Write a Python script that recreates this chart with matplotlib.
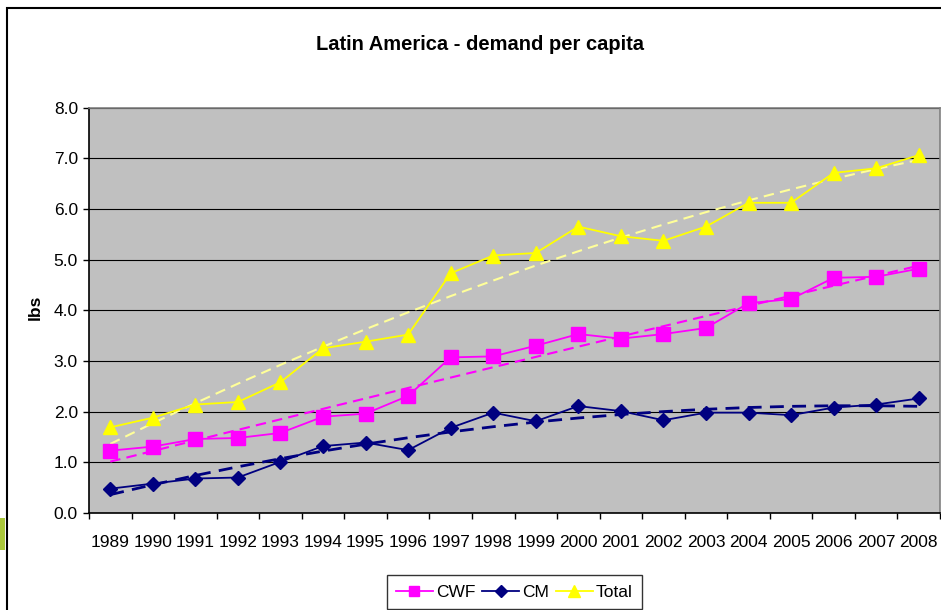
import numpy as np
import matplotlib
matplotlib.use("Agg")
import matplotlib.pyplot as plt
import matplotlib.patches as patches

plt.rcParams['font.family'] = ['Liberation Sans', 'DejaVu Sans']

# data
years = [str(y) for y in range(1989, 2009)]
cwf = [1.23, 1.31, 1.46, 1.48, 1.58, 1.90, 1.96, 2.31, 3.07, 3.09,
       3.30, 3.53, 3.44, 3.53, 3.65, 4.14, 4.22, 4.64, 4.66, 4.82]
cm = [0.48, 0.58, 0.68, 0.70, 1.01, 1.32, 1.39, 1.24, 1.68, 1.98,
      1.81, 2.11, 2.01, 1.83, 1.98, 1.98, 1.93, 2.08, 2.14, 2.26]
total = [1.69, 1.88, 2.14, 2.19, 2.58, 3.25, 3.38, 3.52, 4.73, 5.08,
         5.13, 5.65, 5.46, 5.37, 5.65, 6.12, 6.12, 6.71, 6.80, 7.06]
yticks = [0, 1, 2, 3, 4, 5, 6, 7, 8]

W, H = 941, 610
fig = plt.figure(figsize=(W / 100, H / 100), dpi=100)
ax = fig.add_axes([89 / W, 1 - 513 / H, 851 / W, (513 - 107.5) / H])
ax.set_facecolor("#C0C0C0")

x = np.arange(len(years))

# polynomial trend lines (excel style)
def trend(vals):
    c = np.polyfit(x, vals, 2)
    return np.polyval(c, x)

ax.plot(x, trend(cwf), color="#FF00FF", lw=1.5, ls=(0, (5, 3)), zorder=3)
ax.plot(x, trend(cm), color="#000080", lw=2.0, ls=(0, (5, 3)), zorder=3)
ax.plot(x, trend(total), color="#FFFF99", lw=1.5, ls=(0, (5, 3)), zorder=3)

l1, = ax.plot(x, cwf, color="#FF00FF", lw=1.3, marker="s", ms=9.5,
              mec="#FF00FF", label="CWF", zorder=4)
l2, = ax.plot(x, cm, color="#000080", lw=1.3, marker="D", ms=7.5,
              mec="#000080", label="CM", zorder=4)
l3, = ax.plot(x, total, color="#FFFF00", lw=1.3, marker="^", ms=10,
              mec="#FFFF00", label="Total", zorder=4)

ax.set_xlim(-0.5, len(years) - 0.5)
ax.set_ylim(0, 8)
ax.set_yticks(yticks)
ax.set_yticklabels(["%.1f" % v for v in yticks])
ax.yaxis.grid(True, color="black", lw=0.8)
ax.set_axisbelow(True)

ax.set_xticks(x)
ax.set_xticklabels(years)
ax.set_xticks(np.arange(-0.5, len(years)), minor=True)
ax.tick_params(axis="x", which="major", length=0, pad=16, labelsize=12.5)
ax.tick_params(axis="x", which="minor", length=4.5, width=1, direction="out")
ax.tick_params(axis="y", length=4, width=1, pad=4, labelsize=12.5)

ax.spines["left"].set_color("black")
ax.spines["bottom"].set_color("black")
ax.spines["top"].set_color("#808080")
ax.spines["right"].set_color("#808080")
for s in ax.spines.values():
    s.set_linewidth(1.2)

fig.text(480 / W, 1 - 44 / H, "Latin America - demand per capita",
         ha="center", va="center", fontsize=14.5, fontweight="bold")
fig.text(35.5 / W, 1 - 307 / H, "lbs", rotation=90, ha="center",
         va="center", fontsize=12.5, fontweight="bold")

leg = fig.legend(handles=[l1, l2, l3], loc="upper center",
                 bbox_to_anchor=(514.5 / W, 1 - 575 / H), ncol=3,
                 fontsize=12.5, frameon=True, fancybox=False,
                 handlelength=2.1, handletextpad=0.2, columnspacing=0.4,
                 borderpad=0.55, borderaxespad=0, markerscale=0.8)
leg.get_frame().set_edgecolor("black")
leg.get_frame().set_linewidth(1.0)

# chart border and slide remnant on the left
fig.patches.append(patches.Rectangle((7 / W, -0.2), 1.2, 1 - 8 / H + 0.2,
                                     transform=fig.transFigure, fill=False,
                                     edgecolor="black", lw=1.5))
fig.patches.append(patches.Rectangle((0, 1 - 550 / H), 5 / W, 32 / H,
                                     transform=fig.transFigure,
                                     facecolor="#A9C63A", edgecolor="none"))

fig.savefig("out.png", dpi=100)
